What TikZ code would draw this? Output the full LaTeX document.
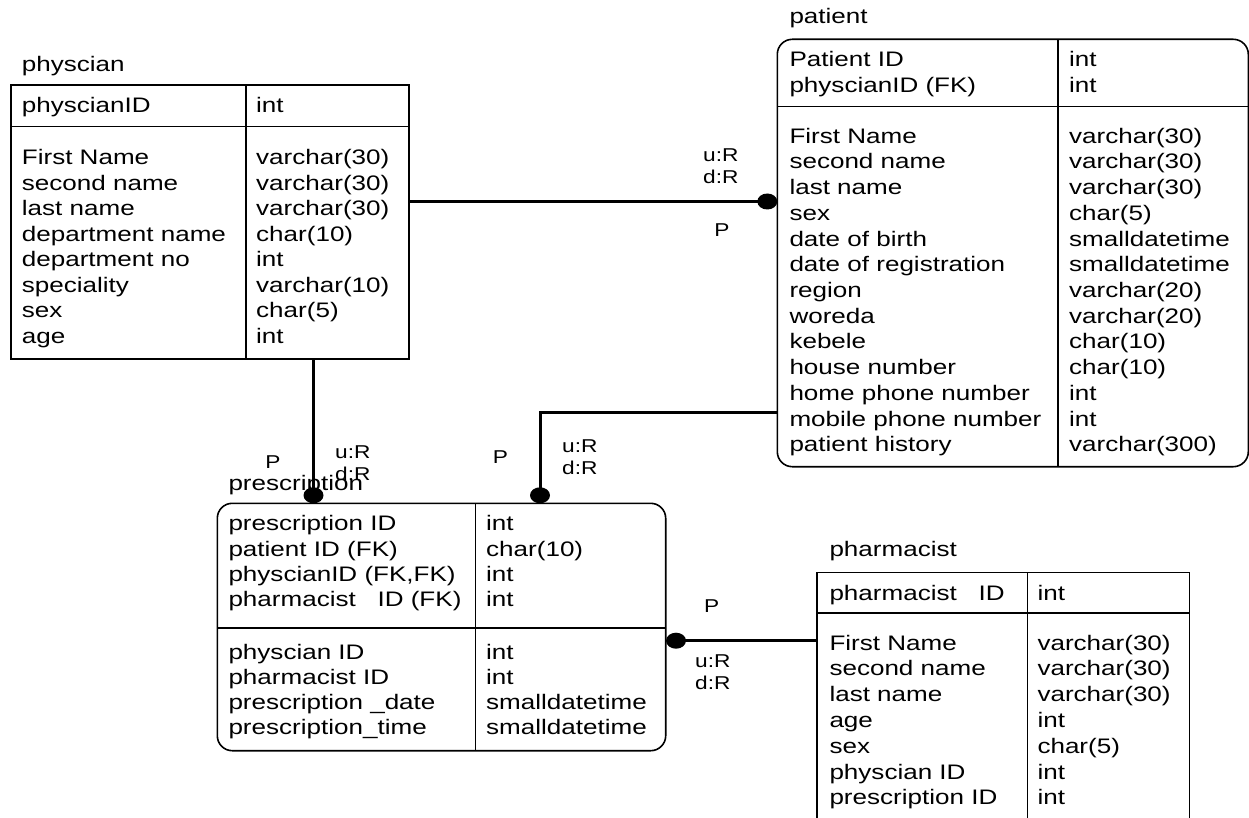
\documentclass[tikz,border=0pt]{standalone}
\usepackage{fontspec}
\setmainfont{Liberation Sans}[FakeStretch=1.24]
\newfontfamily\lblfamily{Liberation Sans}[FakeStretch=1.22]
\usetikzlibrary{shapes.geometric}
\newcommand\tblfont{\fontsize{21}{25}\selectfont}
\newcommand\lblfnt{\lblfamily\fontsize{18.6}{22}\selectfont}
\tikzset{
  tablebox/.style={draw, line width=1.6pt, inner sep=0pt, outer sep=0pt},
  roundbox/.style={tablebox, rounded corners=15pt},
  divider/.style={line width=1.6pt},
  cell/.style={anchor=base west, inner sep=0pt, font=\tblfont},
  lbl/.style={anchor=base west, inner sep=0pt, font=\lblfnt},
  lblc/.style={anchor=base, inner sep=0pt, font=\lblfnt},
  conn/.style={line width=3pt},
  enddot/.style={ellipse, fill=black, minimum width=20pt, minimum height=16pt, inner sep=0pt}
}
\begin{document}
\begin{tikzpicture}[x=1pt, y=-1pt]
\useasboundingbox (0,0) rectangle (1249,818);
\clip (0,0) rectangle (1249,818);

% ---------- physcian ----------
\node[cell] (phyTitle) at (21.7,71.7) {physcian};
\node[tablebox, minimum width=398.3pt, minimum height=274pt] (physcian) at (209.85,222) {};
\draw[divider] (245.7,85) -- (245.7,359);
\draw[divider] (10.7,126.7) -- (409,126.7);
\node[cell] (phyKey) at (21.7,113) {physcianID};
\node[cell] (phyKeyT) at (256,113) {int};
\foreach \a/\b [count=\i from 0] in {First Name/varchar(30), second name/varchar(30),
    last name/varchar(30), department name/char(10), department no/int,
    speciality/varchar(10), sex/char(5), age/int}{
  \node[cell] (phyN\i) at (21.7,{165+25.43*\i}) {\a};
  \node[cell] (phyT\i) at (256,{165+25.43*\i}) {\b};
}

% ---------- patient ----------
\node[cell] (patTitle) at (789.3,23.3) {patient};
\node[roundbox, minimum width=471pt, minimum height=427.4pt] (patient) at (1012.8,253) {};
\draw[divider] (1058,39.3) -- (1058,466.7);
\draw[divider] (777.3,106.7) -- (1248.3,106.7);
\foreach \a/\b [count=\i from 0] in {Patient ID/int, physcianID (FK)/int}{
  \node[cell] (patK\i) at (789.3,{66.7+25.6*\i}) {\a};
  \node[cell] (patKT\i) at (1069,{66.7+25.6*\i}) {\b};
}
\foreach \a/\b [count=\i from 0] in {First Name/varchar(30), second name/varchar(30),
    last name/varchar(30), sex/char(5), date of birth/smalldatetime,
    date of registration/smalldatetime, region/varchar(20), woreda/varchar(20),
    kebele/char(10), house number/char(10), home phone number/int,
    mobile phone number/int, patient history/varchar(300)}{
  \node[cell] (patN\i) at (789.3,{143.3+25.7*\i}) {\a};
  \node[cell] (patT\i) at (1069,{143.3+25.7*\i}) {\b};
}

% ---------- prescription ----------
\node[roundbox, minimum width=448.4pt, minimum height=247.4pt] (prescription) at (441.5,627) {};
\node[cell] (preTitle) at (228.3,490) {prescription};
\draw[divider] (475.3,503.3) -- (475.3,750.7);
\draw[divider] (217.3,628) -- (665.7,628);
\foreach \a/\b [count=\i from 0] in {prescription ID/int, patient ID (FK)/char(10),
    {physcianID (FK,FK)}/int, pharmacist\ \ \ ID (FK)/int}{
  \node[cell] (preK\i) at (228.3,{530.7+25.3*\i}) {\a};
  \node[cell] (preKT\i) at (486,{530.7+25.3*\i}) {\b};
}
\foreach \a/\b [count=\i from 0] in {physcian ID/int, pharmacist ID/int,
    prescription \_date/smalldatetime, prescription\_time/smalldatetime}{
  \node[cell] (preN\i) at (228.3,{659+25.3*\i}) {\a};
  \node[cell] (preT\i) at (486,{659+25.3*\i}) {\b};
}

% ---------- pharmacist ----------
\node[cell] (phaTitle) at (829.3,556.7) {pharmacist};
\node[tablebox, minimum width=372.6pt, minimum height=267.7pt] (pharmacist) at (1003,706.15) {};
\draw[divider] (1027.3,572.3) -- (1027.3,840);
\draw[divider] (816.7,612.7) -- (1189.3,612.7);
\node[cell] (phaKey) at (829.3,600.7) {pharmacist\ \ \ ID};
\node[cell] (phaKeyT) at (1037.3,600.7) {int};
\foreach \a/\b [count=\i from 0] in {First Name/varchar(30), second name/varchar(30),
    last name/varchar(30), age/int, sex/char(5), physcian ID/int, prescription ID/int}{
  \node[cell] (phaN\i) at (829.3,{650+25.8*\i}) {\a};
  \node[cell] (phaT\i) at (1037.3,{650+25.8*\i}) {\b};
}

% ---------- relationship ends ----------
\node[enddot] (dPat) at (767.3,201.5) {};
\node[enddot] (dPreA) at (313.5,495.3) {};
\node[enddot] (dPreB) at (540,495.3) {};
\node[enddot] (dPre) at (676,640.7) {};
\coordinate (bend) at (540,412.3);

% ---------- connectors ----------
\draw[conn] (physcian.east |- dPat) -- (dPat.center);
\draw[conn] (dPreA |- physcian.south) -- (dPreA.center);
\draw[conn] (patient.west |- bend) -- (bend) -- (dPreB.center);
\draw[conn] (dPre.center) -- (pharmacist.west |- dPre);

% ---------- relationship labels ----------
\node[lbl] (u1) at (703,161.7) {u:R};
\node[lbl] (d1) at (703,183.3) {d:R};
\node[lblc] (p1) at (722,236.7) {P};

\node[lblc] (p2) at (273,468) {P};
\node[lbl] (u2) at (335,458) {u:R};
\node[lbl] (d2) at (335,480.7) {d:R};

\node[lblc] (p3) at (500.5,463) {P};
\node[lbl] (u3) at (562,452) {u:R};
\node[lbl] (d3) at (562,474.5) {d:R};

\node[lblc] (p4) at (711.7,612.3) {P};
\node[lbl] (u4) at (695,667.3) {u:R};
\node[lbl] (d4) at (695,689.3) {d:R};
\end{tikzpicture}
\end{document}
